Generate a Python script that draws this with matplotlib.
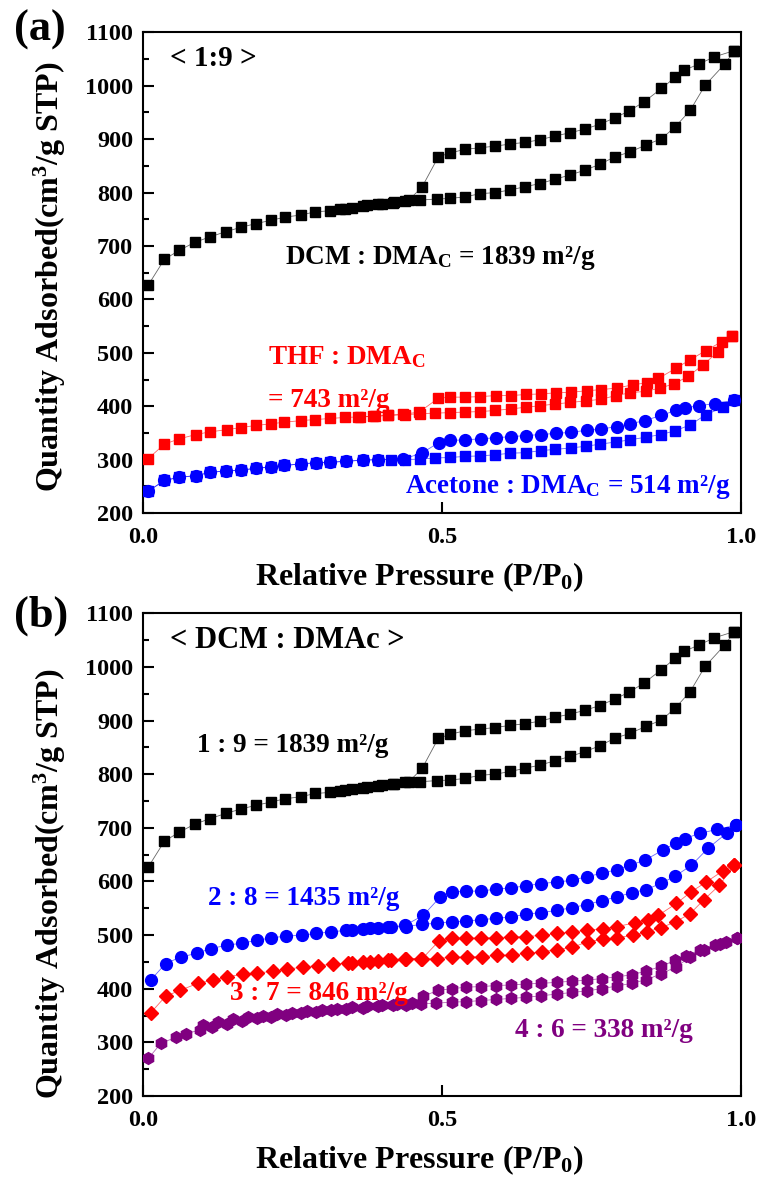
import numpy as np
import matplotlib
matplotlib.use('Agg')
import matplotlib.pyplot as plt

plt.rcParams['font.family'] = ['Liberation Serif', 'DejaVu Serif']
plt.rcParams['font.weight'] = 'bold'
plt.rcParams['axes.labelweight'] = 'bold'
plt.rcParams['mathtext.default'] = 'regular'

# ---- 1:9 (DCM : DMAc) -- same isotherm in both panels
dcm_ads_x = [0.009, 0.036, 0.061, 0.087, 0.112, 0.139, 0.164, 0.189, 0.214, 0.237, 0.264, 0.288, 0.313, 0.338,
             0.368, 0.393, 0.418, 0.438, 0.464, 0.491, 0.513, 0.538, 0.564, 0.589, 0.614, 0.639, 0.664, 0.689,
             0.714, 0.739, 0.764, 0.789, 0.814, 0.841, 0.867, 0.890, 0.915, 0.940, 0.973, 0.989]
dcm_ads_y = [627, 675, 692, 707, 717, 727, 735, 742, 748, 754, 758, 764, 766, 770,
             775, 778, 781, 785, 786, 788, 789, 792, 798, 800, 805, 811, 817, 825,
             833, 842, 853, 867, 876, 889, 901, 923, 954, 1001, 1041, 1066]
dcm_des_x = [0.989, 0.955, 0.930, 0.905, 0.890, 0.867, 0.838, 0.813, 0.789, 0.764, 0.739, 0.714, 0.689, 0.664,
             0.639, 0.614, 0.589, 0.564, 0.538, 0.513, 0.494, 0.467, 0.445, 0.420, 0.400, 0.375, 0.350, 0.330]
dcm_des_y = [1066, 1054, 1041, 1029, 1016, 995, 970, 953, 940, 928, 919, 912, 906, 899,
             894, 891, 887, 884, 881, 874, 867, 811, 786, 782, 779, 776, 772, 769]

# ---- THF : DMAc
thf_ads_x = [0.009, 0.036, 0.061, 0.089, 0.112, 0.140, 0.164, 0.189, 0.214, 0.236, 0.264, 0.288, 0.313, 0.338,
             0.363, 0.388, 0.410, 0.438, 0.463, 0.488, 0.513, 0.538, 0.564, 0.589, 0.615, 0.640, 0.664, 0.689,
             0.714, 0.741, 0.766, 0.791, 0.814, 0.841, 0.865, 0.888, 0.912, 0.937, 0.962, 0.985]
thf_ads_y = [302, 329, 339, 347, 352, 356, 360, 364, 367, 370, 373, 375, 377, 379,
             380, 381, 383, 384, 386, 387, 388, 389, 390, 392, 395, 398, 401, 404,
             407, 410, 413, 420, 425, 428, 434, 442, 456, 478, 502, 532]
thf_des_x = [0.985, 0.968, 0.941, 0.915, 0.891, 0.862, 0.843, 0.819, 0.792, 0.766, 0.742, 0.715, 0.690, 0.665,
             0.641, 0.616, 0.591, 0.564, 0.539, 0.514, 0.494, 0.462, 0.435, 0.410, 0.385, 0.360]
thf_des_y = [532, 521, 504, 487, 471, 452, 444, 440, 434, 431, 429, 426, 425, 423,
             422, 420, 420, 418, 417, 417, 415, 389, 385, 383, 381, 380]

# ---- Acetone : DMAc
ace_ads_x = [0.009, 0.036, 0.061, 0.089, 0.112, 0.139, 0.164, 0.189, 0.214, 0.236, 0.264, 0.289, 0.313, 0.340,
             0.368, 0.393, 0.415, 0.438, 0.463, 0.488, 0.513, 0.539, 0.564, 0.589, 0.614, 0.640, 0.666, 0.689,
             0.716, 0.741, 0.764, 0.791, 0.814, 0.841, 0.866, 0.890, 0.915, 0.941, 0.970, 0.989]
ace_ads_y = [241, 261, 267, 270, 276, 279, 280, 284, 286, 289, 292, 294, 295, 297,
             299, 300, 300, 300, 301, 303, 304, 306, 307, 309, 312, 313, 317, 319,
             322, 325, 329, 333, 337, 342, 347, 354, 365, 384, 398, 411]
ace_des_x = [0.989, 0.957, 0.930, 0.906, 0.891, 0.867, 0.839, 0.814, 0.792, 0.766, 0.742, 0.715, 0.690, 0.665,
             0.640, 0.615, 0.591, 0.565, 0.539, 0.514, 0.495, 0.466, 0.435, 0.393, 0.368, 0.340, 0.313, 0.289,
             0.264, 0.236, 0.214, 0.189, 0.164, 0.139, 0.112, 0.089, 0.061, 0.036, 0.009]
ace_des_y = [411, 405, 401, 397, 392, 383, 373, 367, 362, 357, 355, 351, 349, 347,
             345, 343, 341, 339, 337, 336, 332, 312, 301, 300, 299, 297, 295, 294,
             292, 289, 286, 284, 280, 279, 276, 270, 267, 261, 241]

# ---- 2:8
r28_ads_x = [0.013, 0.038, 0.063, 0.090, 0.114, 0.140, 0.165, 0.190, 0.215, 0.239, 0.266, 0.290, 0.315, 0.340,
             0.368, 0.393, 0.415, 0.440, 0.466, 0.491, 0.516, 0.541, 0.566, 0.591, 0.616, 0.641, 0.666, 0.692,
             0.717, 0.742, 0.767, 0.792, 0.817, 0.842, 0.867, 0.890, 0.917, 0.945, 0.976, 0.992]
r28_ads_y = [416, 447, 459, 466, 475, 481, 485, 490, 495, 498, 500, 503, 506, 509,
             512, 513, 515, 516, 520, 522, 525, 526, 529, 531, 534, 539, 542, 546,
             551, 557, 564, 571, 579, 585, 597, 610, 630, 662, 690, 705]
r28_des_x = [0.992, 0.960, 0.932, 0.906, 0.892, 0.870, 0.840, 0.814, 0.792, 0.767, 0.742, 0.717, 0.692, 0.666,
             0.641, 0.616, 0.591, 0.566, 0.541, 0.516, 0.497, 0.469, 0.438, 0.410, 0.380, 0.350]
r28_des_y = [705, 697, 690, 680, 672, 659, 640, 630, 622, 615, 609, 602, 599, 596,
             592, 588, 586, 582, 582, 580, 571, 537, 518, 515, 513, 510]

# ---- 3:7
r37_ads_x = [0.013, 0.038, 0.062, 0.092, 0.117, 0.140, 0.167, 0.191, 0.218, 0.241, 0.268, 0.293, 0.318, 0.343,
             0.368, 0.393, 0.415, 0.440, 0.465, 0.491, 0.517, 0.542, 0.567, 0.592, 0.617, 0.643, 0.668, 0.693,
             0.718, 0.744, 0.769, 0.793, 0.820, 0.843, 0.867, 0.891, 0.915, 0.938, 0.964, 0.988]
r37_ads_y = [355, 386, 397, 410, 416, 422, 427, 429, 433, 436, 441, 443, 446, 448,
             450, 452, 453, 456, 456, 456, 459, 459, 460, 462, 463, 466, 469, 473,
             477, 488, 492, 495, 500, 506, 514, 525, 540, 566, 593, 630]
r37_des_x = [0.988, 0.970, 0.942, 0.917, 0.892, 0.862, 0.845, 0.823, 0.793, 0.769, 0.742, 0.718, 0.693, 0.668,
             0.641, 0.616, 0.591, 0.566, 0.541, 0.517, 0.495, 0.467, 0.438, 0.410, 0.380, 0.350]
r37_des_y = [630, 620, 599, 581, 559, 537, 529, 523, 516, 512, 509, 506, 503, 500,
             497, 497, 495, 495, 494, 494, 489, 456, 456, 453, 450, 448]

# ---- 4:6
r46_ads_x = [0.009, 0.030, 0.056, 0.072, 0.095, 0.115, 0.140, 0.165, 0.190, 0.215, 0.240, 0.265, 0.290, 0.315,
             0.340, 0.368, 0.393, 0.418, 0.440, 0.465, 0.490, 0.516, 0.541, 0.566, 0.591, 0.616, 0.641, 0.666,
             0.692, 0.717, 0.742, 0.767, 0.792, 0.817, 0.842, 0.867, 0.892, 0.915, 0.938, 0.965, 0.994]
r46_ads_y = [270, 298, 310, 316, 323, 329, 335, 340, 345, 348, 351, 354, 357, 360,
             362, 365, 367, 369, 369, 372, 373, 375, 376, 378, 380, 382, 384, 387,
             390, 393, 396, 400, 405, 410, 417, 428, 441, 459, 472, 484, 494]
r46_des_x = [0.994, 0.975, 0.957, 0.931, 0.908, 0.890, 0.867, 0.842, 0.817, 0.792, 0.767, 0.742, 0.717, 0.692,
             0.666, 0.641, 0.616, 0.591, 0.566, 0.541, 0.516, 0.493, 0.469, 0.450, 0.425, 0.400, 0.375, 0.350,
             0.325, 0.300, 0.275, 0.250, 0.225, 0.200, 0.175, 0.150, 0.125, 0.100]
r46_des_y = [494, 487, 482, 472, 461, 453, 442, 433, 426, 422, 419, 416, 414, 412,
             410, 409, 407, 406, 404, 403, 400, 397, 386, 374, 372, 370, 368, 366,
             363, 361, 358, 355, 353, 350, 347, 343, 338, 332]

PURPLE = '#800080'
ANN = 19.5


def isotherm(ax, xa, ya, xd, yd, color, m_ads, m_des, ms_ads=7.5, ms_des=7.5):
    ax.plot(xa, ya, '-', color=color, lw=0.6, alpha=0.6, zorder=2)
    ax.plot(xd, yd, '-', color=color, lw=0.6, alpha=0.6, zorder=2)
    ax.plot(xa, ya, ls='none', marker=m_ads, ms=ms_ads, color=color, mec=color, zorder=3)
    ax.plot(xd, yd, ls='none', marker=m_des, ms=ms_des, color=color, mec=color, zorder=3)


def style(ax, ylab_pos):
    ax.set_xlim(0, 1.0)
    ax.set_ylim(200, 1100)
    ax.set_xticks([0, 0.5, 1.0])
    ax.set_xticklabels(['0.0', '0.5', '1.0'])
    ax.set_yticks(np.arange(200, 1101, 100))
    ax.set_yticks(np.arange(250, 1100, 100), minor=True)
    ax.tick_params(which='both', direction='in', width=1.5, labelsize=17.5)
    ax.tick_params(axis='x', pad=10)
    ax.tick_params(axis='y', pad=7)
    ax.tick_params(which='major', length=8)
    ax.tick_params(which='minor', length=4)
    for s in ax.spines.values():
        s.set_linewidth(1.5)
    ax.set_xlabel('Relative Pressure (P/P$_0$)', fontsize=23, va='center')
    ax.set_ylabel('Quantity Adsorbed(cm$^3$/g STP)', fontsize=23, va='center')
    ax.xaxis.set_label_coords(0.463, -0.133)
    ax.yaxis.set_label_coords(-0.155, ylab_pos)


fig = plt.figure(figsize=(7.6, 11.78), dpi=100)
ax1 = fig.add_axes([0.188, 0.5645, 0.787, 0.408])
ax2 = fig.add_axes([0.188, 0.0696, 0.787, 0.4098])

# panel (a)
isotherm(ax1, dcm_ads_x, dcm_ads_y, dcm_des_x, dcm_des_y, 'black', 's', 's')
isotherm(ax1, thf_ads_x, thf_ads_y, thf_des_x, thf_des_y, 'red', 's', 's')
isotherm(ax1, ace_ads_x, ace_ads_y, ace_des_x, ace_des_y, 'blue', 's', 'o', 7.5, 8.5)
style(ax1, 0.492)
ax1.text(0.045, 1051, '< 1:9 >', fontsize=21, va='center')
ax1.text(0.237, 678, 'DCM : DMA$_C$ = 1839 m²/g', fontsize=ANN, va='center')
ax1.text(0.209, 492, 'THF : DMA$_C$', fontsize=ANN, va='center', color='red')
ax1.text(0.209, 410, '= 743 m²/g', fontsize=ANN, va='center', color='red')
ax1.text(0.438, 248, 'Acetone : DMA$_C$ = 514 m²/g', fontsize=ANN, va='center', color='blue')

# panel (b)
isotherm(ax2, dcm_ads_x, dcm_ads_y, dcm_des_x, dcm_des_y, 'black', 's', 's')
isotherm(ax2, r28_ads_x, r28_ads_y, r28_des_x, r28_des_y, 'blue', 'o', 'o', 8.5, 8.5)
isotherm(ax2, r37_ads_x, r37_ads_y, r37_des_x, r37_des_y, 'red', 'D', 'D', 7, 7)
isotherm(ax2, r46_ads_x, r46_ads_y, r46_des_x, r46_des_y, PURPLE, 'h', 'h', 8.5, 8.5)
style(ax2, 0.44)
ax2.text(0.045, 1050, '< DCM : DMAc >', fontsize=22, va='center')
ax2.text(0.09, 854, '1 : 9 = 1839 m²/g', fontsize=ANN, va='center')
ax2.text(0.109, 569, '2 : 8 = 1435 m²/g', fontsize=ANN, va='center', color='blue')
ax2.text(0.146, 392, '3 : 7 = 846 m²/g', fontsize=ANN, va='center', color='red')
ax2.text(0.622, 323, '4 : 6 = 338 m²/g', fontsize=ANN, va='center', color=PURPLE)

fig.text(0.018, 0.975, '(a)', fontsize=32, va='center')
fig.text(0.018, 0.477, '(b)', fontsize=32, va='center')

fig.savefig('out.png', dpi=100)
